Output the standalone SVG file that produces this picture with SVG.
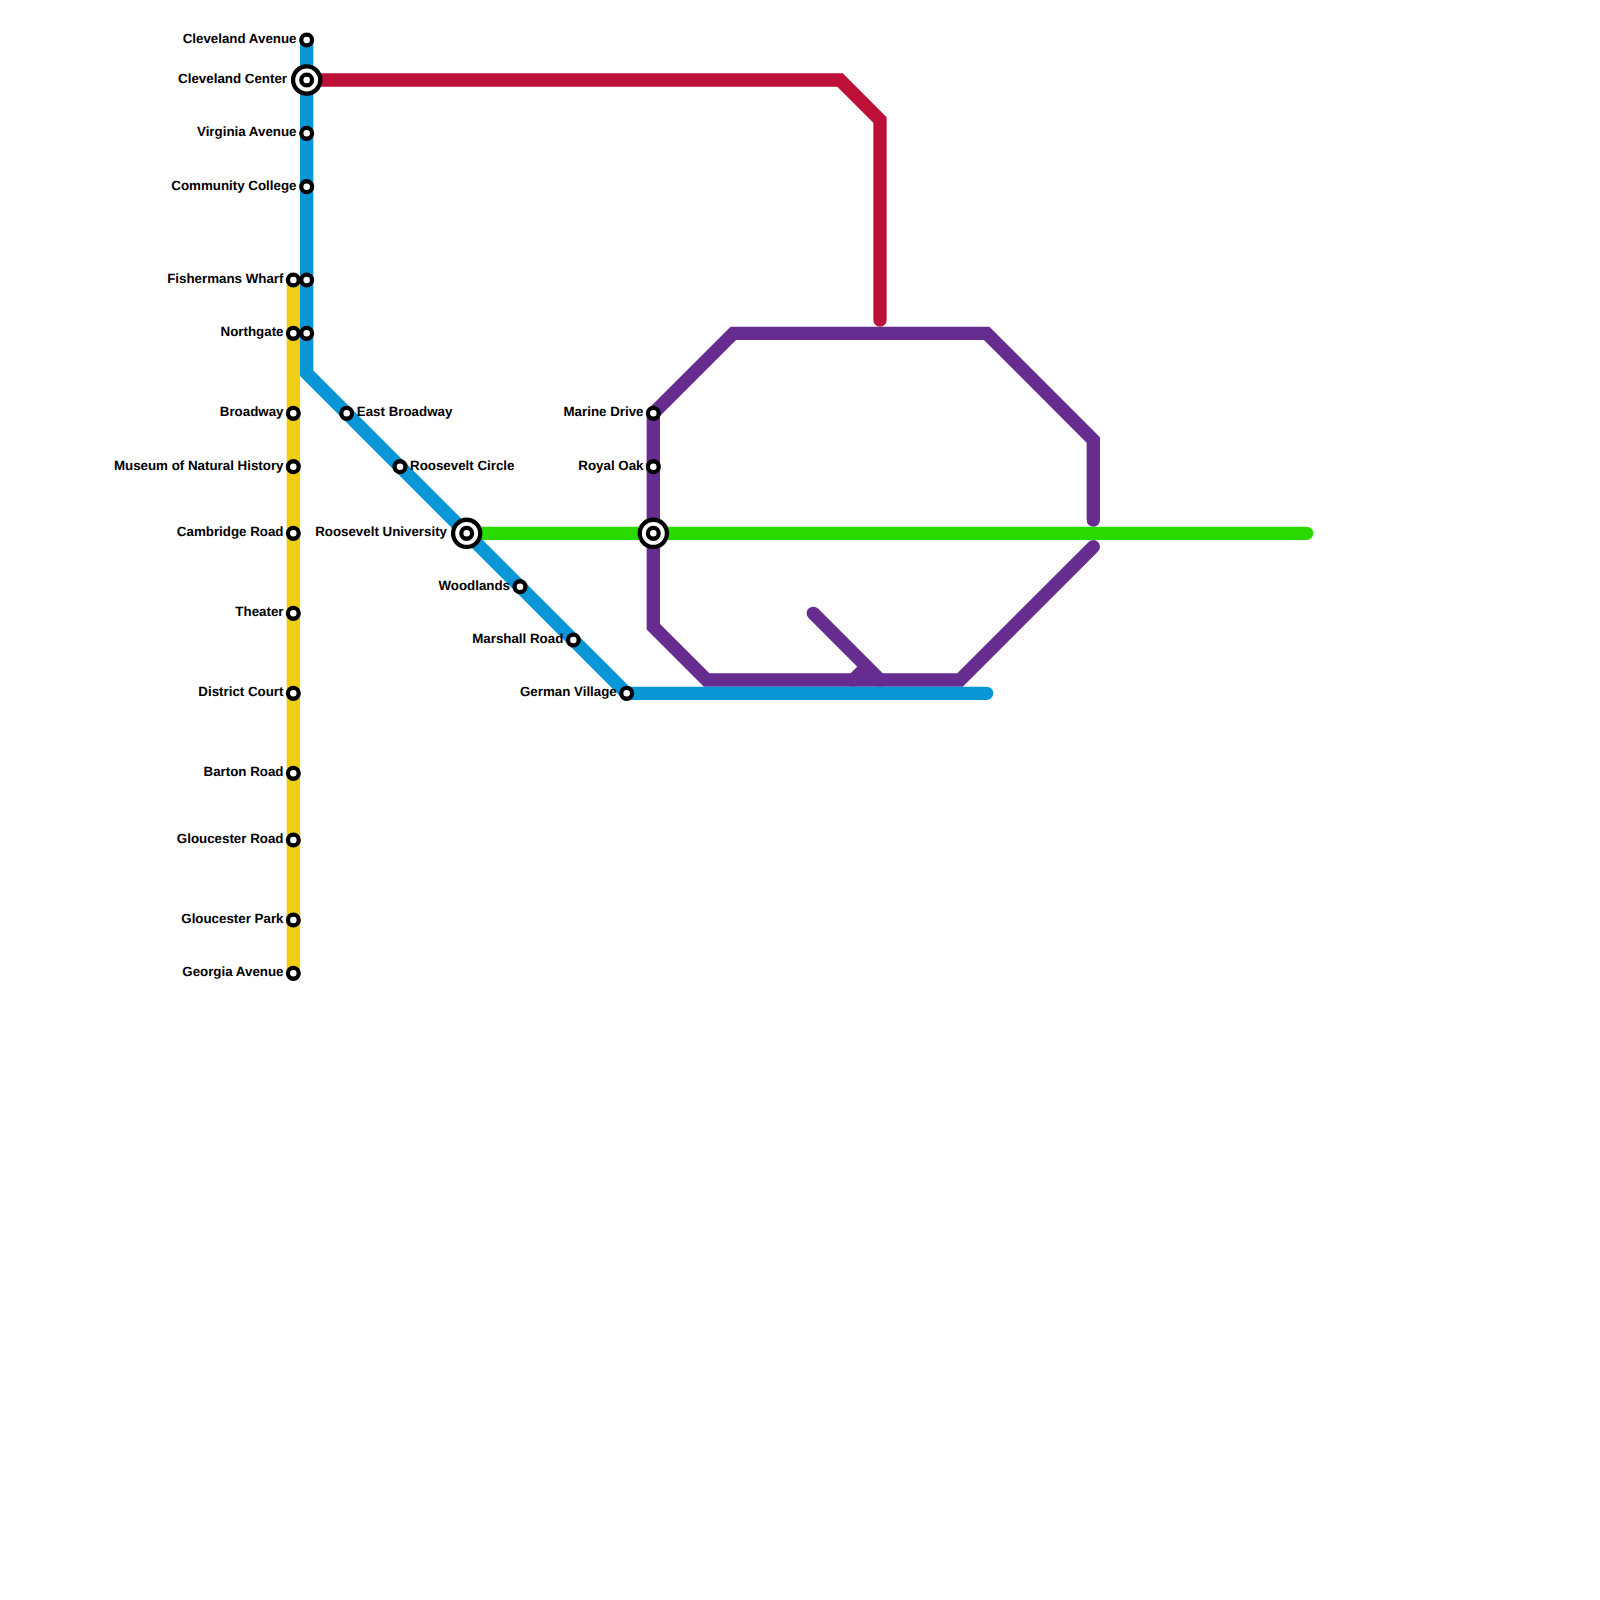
<svg xmlns="http://www.w3.org/2000/svg" width="1600" height="1600" viewBox="0 0 1600 1600">
<style>
.l{fill:none;stroke-width:13.33;stroke-linecap:round;stroke-linejoin:miter}
.s{fill:#fff;stroke:#000;stroke-width:4.3}
.o{fill:#fff;stroke:#000;stroke-width:4.3}
text{font-family:"Liberation Sans",Arial,sans-serif;font-size:13.33px;font-weight:700;fill:#000;text-rendering:geometricPrecision}
.e{text-anchor:end}
</style>
<defs>
<g id="st"><circle class="s" r="5.4"/></g>
<g id="ix"><circle class="o" r="13.6"/><circle class="s" r="5.4"/></g>
</defs>
<rect width="1600" height="1600" fill="#fff"/>
<g id="connectors">
<path class="l" stroke="#f0ce15" d="M293.33 280V973.33"/>
<path class="l" stroke="#662c90" d="M1093.33 546.67L960 680H706.67L653.33 626.67V413.33L733.33 333.33H986.67L1093.33 440V520"/>
<path class="l" stroke="#662c90" d="M813.33 613.33L880 680M853.33 680L866.67 666.67"/>
<path class="l" stroke="#bd1038" d="M306.67 80H840L880 120V320"/>
<path class="l" stroke="#2ad900" d="M466.67 533.33H1306.67"/>
<path class="l" stroke="#0896d7" d="M306.67 40V373.33L626.67 693.33H986.67"/>
</g>
<g id="cleveland-avenue"><use href="#st" x="306.67" y="40"/><text class="e" x="296.5" y="43">Cleveland Avenue</text></g>
<g id="cleveland-center"><use href="#ix" x="306.67" y="80"/><text class="e" x="287" y="83">Cleveland Center</text></g>
<g id="virginia-avenue"><use href="#st" x="306.67" y="133.33"/><text class="e" x="296.5" y="136.3">Virginia Avenue</text></g>
<g id="community-college"><use href="#st" x="306.67" y="186.67"/><text class="e" x="296.5" y="189.7">Community College</text></g>
<g id="fishermans-wharf-b"><use href="#st" x="306.67" y="280"/></g>
<g id="northgate-b"><use href="#st" x="306.67" y="333.33"/></g>
<g id="fishermans-wharf"><use href="#st" x="293.33" y="280"/><text class="e" x="283.5" y="283">Fishermans Wharf</text></g>
<g id="northgate"><use href="#st" x="293.33" y="333.33"/><text class="e" x="283.5" y="336.3">Northgate</text></g>
<g id="broadway"><use href="#st" x="293.33" y="413.33"/><text class="e" x="283.5" y="416.3">Broadway</text></g>
<g id="museum"><use href="#st" x="293.33" y="466.67"/><text class="e" x="283.5" y="469.7">Museum of Natural History</text></g>
<g id="cambridge-road"><use href="#st" x="293.33" y="533.33"/><text class="e" x="283.5" y="536.3">Cambridge Road</text></g>
<g id="theater"><use href="#st" x="293.33" y="613.33"/><text class="e" x="283.5" y="616.3">Theater</text></g>
<g id="district-court"><use href="#st" x="293.33" y="693.33"/><text class="e" x="283.5" y="696.3">District Court</text></g>
<g id="barton-road"><use href="#st" x="293.33" y="773.33"/><text class="e" x="283.5" y="776.3">Barton Road</text></g>
<g id="gloucester-road"><use href="#st" x="293.33" y="840"/><text class="e" x="283.5" y="843">Gloucester Road</text></g>
<g id="gloucester-park"><use href="#st" x="293.33" y="920"/><text class="e" x="283.5" y="923">Gloucester Park</text></g>
<g id="georgia-avenue"><use href="#st" x="293.33" y="973.33"/><text class="e" x="283.5" y="976.3">Georgia Avenue</text></g>
<g id="east-broadway"><use href="#st" x="346.67" y="413.33"/><text x="356.8" y="416.3">East Broadway</text></g>
<g id="roosevelt-circle"><use href="#st" x="400" y="466.67"/><text x="410" y="469.7">Roosevelt Circle</text></g>
<g id="roosevelt-university"><use href="#ix" x="466.67" y="533.33"/><text class="e" x="447" y="536.3">Roosevelt University</text></g>
<g id="woodlands"><use href="#st" x="520" y="586.67"/><text class="e" x="510" y="589.7">Woodlands</text></g>
<g id="marshall-road"><use href="#st" x="573.33" y="640"/><text class="e" x="563.3" y="643">Marshall Road</text></g>
<g id="german-village"><use href="#st" x="626.67" y="693.33"/><text class="e" x="616.8" y="696.3">German Village</text></g>
<g id="marine-drive"><use href="#st" x="653.33" y="413.33"/><text class="e" x="643.5" y="416.3">Marine Drive</text></g>
<g id="royal-oak"><use href="#st" x="653.33" y="466.67"/><text class="e" x="643.5" y="469.7">Royal Oak</text></g>
<g id="interchange"><use href="#ix" x="653.33" y="533.33"/></g>
</svg>
